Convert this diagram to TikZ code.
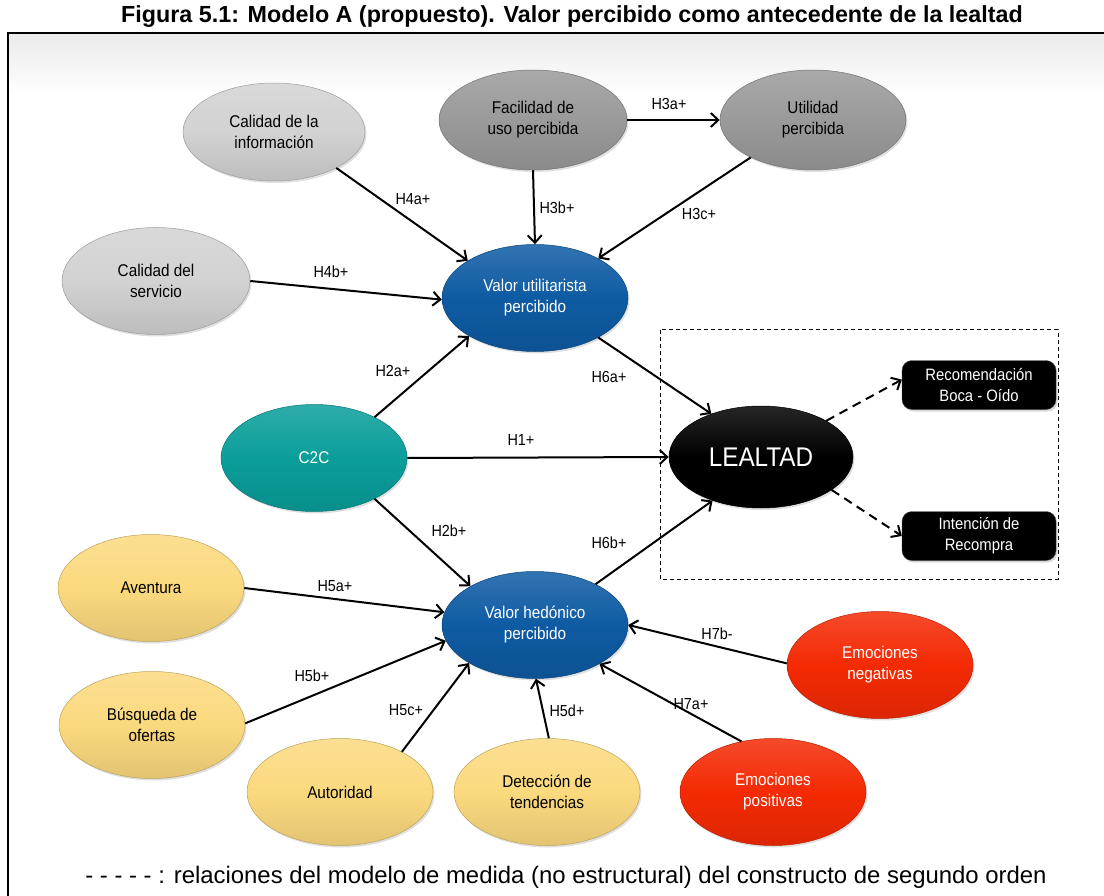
\documentclass[tikz,border=0pt]{standalone}
\usepackage{fontspec}
\setmainfont{Liberation Sans}
\newfontfamily\narrowfont{Liberation Sans}[FakeStretch=0.9]
\usetikzlibrary{shapes.geometric,arrows.meta,shadows}

\definecolor{cLight}{HTML}{D2D2D2}
\definecolor{cDark}{HTML}{9A9A9A}
\definecolor{cBlue}{HTML}{0E5BA3}
\definecolor{cTeal}{HTML}{0A9E9A}
\definecolor{cYellow}{HTML}{FBD97E}
\definecolor{cRed}{HTML}{F42A04}

\begin{document}
\begin{tikzpicture}[x=1pt,y=-1pt,
  cons/.style={ellipse, inner sep=0pt, minimum width=186pt, minimum height=107pt,
    align=center, font=\narrowfont\fontsize{17}{21}\selectfont,
    draw=#1!75!black, line width=0.5pt,
    top color=#1!85!white, bottom color=#1!90!black, middle color=#1,
    drop shadow={opacity=0.25, shadow xshift=1.5pt, shadow yshift=-2pt}},
  outcome/.style={rectangle, rounded corners=10pt, inner sep=0pt,
    minimum width=154pt, minimum height=49pt, fill=black, draw=black!70,
    text=white, align=center, font=\narrowfont\fontsize{16.5}{21}\selectfont,
    drop shadow={opacity=0.3, shadow xshift=1.5pt, shadow yshift=-2pt}},
  hyp/.style={-{Straight Barb[length=7.5pt,width=14pt,line width=2pt]}, line width=2pt},
  meas/.style={hyp, dash pattern=on 9pt off 6pt},
  lbl/.style={font=\narrowfont\fontsize{16}{18}\selectfont, inner sep=1pt}]

\useasboundingbox (0,0) rectangle (1104,896);
\clip (0,0) rectangle (1104,896);

% panel with a soft grey band along its top edge
\fill[white] (8,33) rectangle (1110,905);
\shade[top color=black!8, bottom color=white] (9,34) rectangle (1110,95);
\draw[line width=2pt] (8,905) -- (8,33) -- (1110,33);

% title
\node[font=\bfseries\fontsize{23.3}{25}\selectfont] (title) at (572,17)
  {Figura 5.1: Modelo A (propuesto). Valor percibido como antecedente de la lealtad};

% constructs
\node[cons=cLight, minimum width=182pt, minimum height=98pt] (calinf) at (274,132) {Calidad de la\\información};
\node[cons=cDark, minimum width=188pt, minimum height=100pt] (facil) at (533,120) {Facilidad de\\uso percibida};
\node[cons=cDark, minimum width=186pt, minimum height=100pt] (util) at (813,120) {Utilidad\\percibida};
\node[cons=cLight, minimum width=188pt] (calserv) at (156,281) {Calidad del\\servicio};
\node[cons=cBlue, text=white] (vu) at (535,298) {Valor utilitarista\\percibido};
\node[cons=cTeal, text=white] (c2c) at (314,458) {C2C};
\node[cons=cBlue, text=white] (vh) at (535,625) {Valor hedónico\\percibido};
\node[cons=cYellow] (aven) at (151,588) {Aventura};
\node[cons=cYellow] (busq) at (152,725) {Búsqueda de\\ofertas};
\node[cons=cYellow] (auto) at (340,792) {Autoridad};
\node[cons=cYellow] (detec) at (547,792) {Detección de\\tendencias};
\node[cons=cRed, text=white] (empos) at (773,792) {Emociones\\positivas};
\node[cons=cRed, text=white] (emneg) at (880,665) {Emociones\\negativas};

% second-order construct and its dimensions
\draw[dashed, line width=1pt, dash pattern=on 4pt off 3pt] (660,330) rectangle (1058,579);
\node[cons=black, text=white, minimum width=184pt, minimum height=102pt,
  font=\narrowfont\fontsize{27}{30}\selectfont] (leal) at (761,457) {LEALTAD};
\node[outcome] (recom) at (979,385) {Recomendación\\Boca - Oído};
\node[outcome] (recomp) at (979,536) {Intención de\\Recompra};

% structural relations
\draw[hyp] (calinf.-30) -- (vu.151);
\draw[hyp] (facil.south) -- (vu.north);
\draw[hyp] (facil.east) -- (util.west);
\draw[hyp] (util.211) -- (vu.32);
\draw[hyp] (calserv.east) -- (vu.181);
\draw[hyp] (c2c.34) -- (vu.210);
\draw[hyp] (c2c.east) -- (leal.west);
\draw[hyp] (c2c.-34) -- (vh.149);
\draw[hyp] (vu.-32) -- (leal.139);
\draw[hyp] (vh.34) -- (leal.222);
\draw[hyp] (aven.east) -- (vh.172);
\draw[hyp] (busq.1) -- (vh.190);
\draw[hyp] (auto.33) -- (vh.210);
\draw[hyp] (detec.88) -- (vh.-89);
\draw[hyp] (emneg.179) -- (vh.0);
\draw[hyp] (empos.122) -- (vh.-31);

% measurement relations
\draw[meas] (leal.29) -- (recom.176);
\draw[meas] (leal.-25) -- (recomp.west);

% hypothesis labels
\node[lbl] (l4a) at (413,199) {H4a+};
\node[lbl] (l3b) at (557,208) {H3b+};
\node[lbl] (l3a) at (669,104) {H3a+};
\node[lbl] (l3c) at (699,214) {H3c+};
\node[lbl] (l4b) at (331,272) {H4b+};
\node[lbl] (l2a) at (393,371) {H2a+};
\node[lbl] (l1) at (521,440) {H1+};
\node[lbl] (l6a) at (609,377) {H6a+};
\node[lbl] (l2b) at (449,531) {H2b+};
\node[lbl] (l6b) at (609,543) {H6b+};
\node[lbl] (l5a) at (335,586) {H5a+};
\node[lbl] (l5b) at (312,676) {H5b+};
\node[lbl] (l5c) at (406,710) {H5c+};
\node[lbl] (l5d) at (567,711) {H5d+};
\node[lbl] (l7b) at (717,634) {H7b-};
\node[lbl] (l7a) at (691,704) {H7a+};

% legend
\node[font=\fontsize{23.9}{26}\selectfont] (legend) at (566,877)
  {- - - - - : relaciones del modelo de medida (no estructural) del constructo de segundo orden};
\end{tikzpicture}
\end{document}
